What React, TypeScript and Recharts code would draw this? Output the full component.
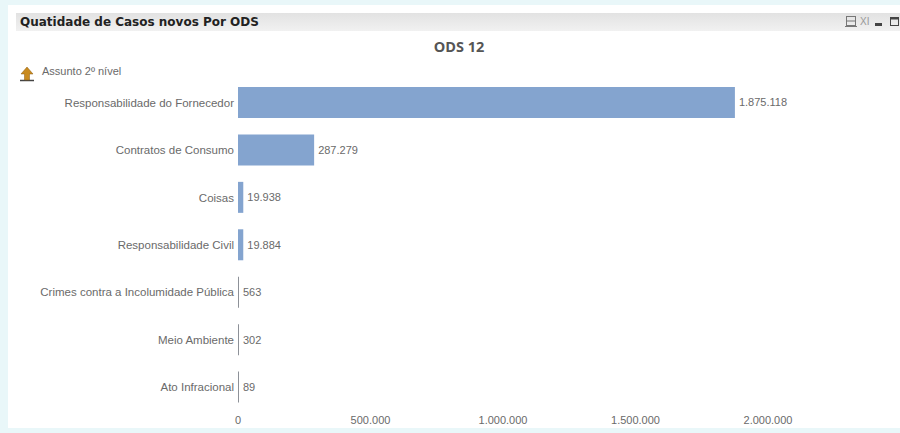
import { Bar, BarChart, Cell, LabelList, XAxis, YAxis } from 'recharts';

const CATEGORIES = [
  'Responsabilidade do Fornecedor',
  'Contratos de Consumo',
  'Coisas',
  'Responsabilidade Civil',
  'Crimes contra a Incolumidade Pública',
  'Meio Ambiente',
  'Ato Infracional',
];
const CASES = [1875118, 287279, 19938, 19884, 563, 302, 89];
const X_TICKS = [0, 500000, 1000000, 1500000, 2000000];

const data = CATEGORIES.map((name, i) => ({ name, value: CASES[i] }));

const fmt = (v: number) => String(v).replace(/\B(?=(\d{3})+(?!\d))/g, '.');

const FONT = '"Liberation Sans", Arial, sans-serif';
const TEXT_COLOR = '#6a6a6a';

// single-line category label, the default tick wraps the long one
function CategoryTick({ x, y, payload }: any) {
  return (
    <text x={x} y={y} dy={4} textAnchor="end" fontSize={11.5} fontFamily={FONT} fill={TEXT_COLOR}>
      {payload.value}
    </text>
  );
}

function UpIcon() {
  return (
    <svg width={18} height={18} style={{ position: 'absolute', left: 18, top: 65 }}>
      <path d="M2 15.5 H16" stroke="#444" strokeWidth={1.5} />
      <path d="M9 2 L15 9 H11.5 V15 H6.5 V9 H3 Z" fill="#c98a1e" stroke="#8a5a10" strokeWidth={0.5} />
    </svg>
  );
}

function WindowIcons() {
  return (
    <svg width={56} height={16} style={{ position: 'absolute', left: 844, top: 13 }}>
      <rect x={2.5} y={3.5} width={9} height={9} fill="none" stroke="#777" />
      <path d="M1 13.5 H13 M2 8 H12" stroke="#777" />
      <text x={16} y={12} fontFamily={FONT} fontSize={10} fill="#999">XI</text>
      <rect x={31} y={10} width={7} height={3} fill="#444" />
      <rect x={46.5} y={4.5} width={8} height={8} fill="none" stroke="#444" />
      <path d="M46 5.5 H55" stroke="#444" strokeWidth={2} />
    </svg>
  );
}

export default function App() {
  return (
    <div style={{ position: 'absolute', left: 0, top: 0, width: 900, height: 433, background: '#e9f7f9', overflow: 'hidden' }}>
      <div style={{ position: 'absolute', left: 8, top: 5, width: 892, height: 423, background: '#fff' }} />
      <div
        style={{
          position: 'absolute',
          left: 16,
          top: 13,
          width: 884,
          height: 18,
          background: 'linear-gradient(#e2e2e2, #f1f1f1)',
          font: 'bold 12px "DejaVu Sans", sans-serif',
          lineHeight: '18px',
          color: '#222',
          paddingLeft: 4,
          boxSizing: 'border-box',
        }}
      >
        Quatidade de Casos novos Por ODS
      </div>
      <WindowIcons />
      <div style={{ position: 'absolute', left: 0, width: 918, top: 37, textAlign: 'center', font: 'bold 14.5px "Open Sans", sans-serif', color: '#555' }}>
        ODS 12
      </div>
      <UpIcon />
      <div style={{ position: 'absolute', left: 42, top: 65, font: '11px ' + FONT, color: TEXT_COLOR }}>Assunto 2º nível</div>
      <BarChart
        width={900}
        height={433}
        data={data}
        layout="vertical"
        margin={{ top: 79, right: 132, bottom: 0, left: 0 }}
        barCategoryGap={8}
        style={{ position: 'absolute', left: 0, top: 0 }}
      >
        <XAxis
          type="number"
          domain={[0, 2000000]}
          ticks={X_TICKS}
          tickFormatter={fmt}
          axisLine={false}
          tickLine={false}
          tickSize={3}
          height={22}
          tick={{ fontSize: 11, fontFamily: FONT, fill: TEXT_COLOR }}
        />
        <YAxis
          type="category"
          dataKey="name"
          width={238}
          interval={0}
          axisLine={false}
          tickLine={false}
          tickMargin={-2}
          tick={<CategoryTick />}
        />
        <Bar dataKey="value" fill="#84a4cf" minPointSize={1} isAnimationActive={false}>
          {CASES.map((v, i) => (
            <Cell key={i} fill={v < 1000 ? '#8d9198' : '#84a4cf'} />
          ))}
          <LabelList dataKey="value" position="right" offset={4} formatter={(v: any) => fmt(Number(v))} style={{ fontSize: 11, fontFamily: FONT, fill: TEXT_COLOR }} />
        </Bar>
      </BarChart>
    </div>
  );
}
